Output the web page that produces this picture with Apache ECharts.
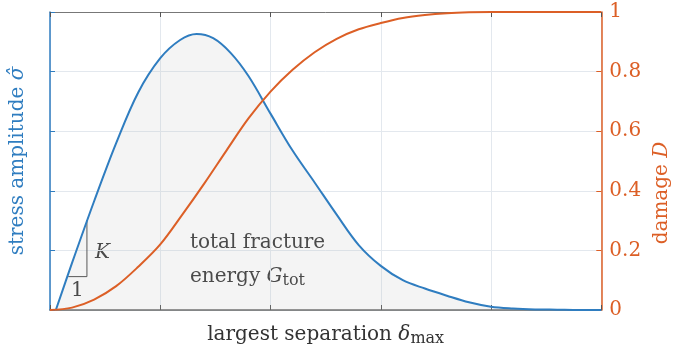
<!DOCTYPE html>
<html><head><meta charset="utf-8">
<script src="https://cdn.jsdelivr.net/npm/echarts@6/dist/echarts.min.js"></script>
<style>html,body{margin:0;padding:0;background:#fff}#c{width:680px;height:352px}</style>
</head><body><div id="c"></div>
<script>
// stress amplitude (blue)
const stressX = [0.053, 0.2, 0.4, 0.6, 0.8, 1.0, 1.18, 1.33, 1.48, 1.64, 1.8, 2.0, 2.2, 2.4, 2.6, 2.8, 3.0, 3.2, 3.4, 3.6, 3.8, 4.0, 4.2, 4.4, 4.6, 4.8, 5.0];
const stressY = [0, 0.158, 0.365, 0.56, 0.73, 0.845, 0.906, 0.926, 0.912, 0.862, 0.785, 0.659, 0.535, 0.428, 0.32, 0.218, 0.148, 0.1, 0.072, 0.048, 0.026, 0.011, 0.005, 0.002, 0.001, 0, 0];
// damage D (orange)
const damageX = [0, 0.2, 0.4, 0.6, 0.8, 1.0, 1.2, 1.4, 1.6, 1.8, 2.0, 2.2, 2.4, 2.6, 2.8, 3.0, 3.2, 3.4, 3.6, 3.8, 4.0, 4.5, 5.0];
const damageY = [0, 0.008, 0.035, 0.08, 0.145, 0.22, 0.32, 0.425, 0.535, 0.643, 0.733, 0.806, 0.865, 0.91, 0.942, 0.963, 0.98, 0.99, 0.996, 0.999, 1, 1, 1];
// slope triangle
const triX = [0.165, 0.335, 0.335];
const triY = [0.112, 0.112, 0.302];
const damageTicks = [0, 0.2, 0.4, 0.6, 0.8, 1];

const F = "'DejaVu Serif', serif";
const FS = 20;
const BLUE = '#2f7dc0', ORANGE = '#dc5f26', GRID = '#e3e8ee', TXT = '#333';
const zip = (a, b) => a.map((v, i) => [v, b[i]]);

const chart = echarts.init(document.getElementById('c'), null, {renderer: 'canvas'});
chart.setOption({
  animation: false,
  backgroundColor: '#fff',
  grid: {left: 49, right: 68, top: 12, bottom: 42},
  xAxis: [{
    type: 'value', min: 0, max: 5, interval: 1, position: 'bottom',
    name: '{a|largest separation }{i|δ}{s|max}', nameLocation: 'middle', nameGap: 13,
    nameTextStyle: {rich: {
      a: {fontFamily: F, fontSize: FS, color: TXT},
      i: {fontFamily: F, fontSize: FS, fontStyle: 'italic', color: TXT},
      s: {fontFamily: F, fontSize: 16, color: TXT, padding: [8, 0, 0, 0]}
    }},
    axisLine: {onZero: false, lineStyle: {color: '#666', width: 1.5}},
    axisTick: {inside: true, length: 5, lineStyle: {color: '#555'}},
    axisLabel: {show: false},
    splitLine: {show: true, lineStyle: {color: GRID, width: 1}}
  }, {
    type: 'value', min: 0, max: 5, interval: 1, position: 'top',
    axisLine: {onZero: false, lineStyle: {color: '#777', width: 1}},
    axisTick: {inside: true, length: 5, lineStyle: {color: '#555'}},
    axisLabel: {show: false}, splitLine: {show: false}
  }],
  yAxis: [{
    type: 'value', min: 0, max: 1, interval: 0.2, position: 'left',
    name: '{a|stress amplitude }{i|σ̂}', nameLocation: 'middle', nameGap: 22, nameRotate: 90,
    nameTextStyle: {rich: {
      a: {fontFamily: F, fontSize: FS, color: BLUE},
      i: {fontFamily: F, fontSize: FS, fontStyle: 'italic', color: BLUE}
    }},
    axisLine: {onZero: false, lineStyle: {color: BLUE, width: 1.5}},
    axisTick: {inside: true, length: 5, lineStyle: {color: BLUE}},
    axisLabel: {show: false},
    splitLine: {show: true, lineStyle: {color: GRID, width: 1}}
  }, {
    type: 'value', min: 0, max: 1, interval: 0.2, position: 'right',
    name: '{a|damage }{i|D}', nameLocation: 'middle', nameGap: 38, nameRotate: 90,
    nameTextStyle: {padding: [0, 64, 0, 0], rich: {
      a: {fontFamily: F, fontSize: FS, color: ORANGE},
      i: {fontFamily: F, fontSize: FS, fontStyle: 'italic', color: ORANGE}
    }},
    axisLine: {onZero: false, lineStyle: {color: ORANGE, width: 1.5}},
    axisTick: {inside: true, length: 5, lineStyle: {color: ORANGE}},
    axisLabel: {show: true, color: ORANGE, fontFamily: F, fontSize: FS, margin: 8,
      formatter: v => damageTicks.some(t => Math.abs(t - v) < 1e-9) ? String(+v.toFixed(1)) : ''},
    splitLine: {show: false}
  }],
  series: [{
    type: 'line', xAxisIndex: 0, yAxisIndex: 0, data: zip(stressX, stressY), smooth: 0.35,
    symbol: 'none', lineStyle: {color: BLUE, width: 2},
    areaStyle: {color: 'rgba(190,190,190,0.24)', origin: 'start'}, z: 3
  }, {
    type: 'line', xAxisIndex: 0, yAxisIndex: 1, data: zip(damageX, damageY), smooth: 0.35,
    symbol: 'none', lineStyle: {color: ORANGE, width: 2}, z: 4
  }, {
    type: 'line', xAxisIndex: 0, yAxisIndex: 0, data: zip(triX, triY), smooth: false,
    symbol: 'none', lineStyle: {color: '#444', width: 1}, z: 2
  }],
  graphic: [
    {type: 'text', left: 95, top: 243, style: {text: 'K', font: `italic ${FS}px ${F}`, fill: TXT}},
    {type: 'text', left: 71, top: 281, style: {text: '1', font: `${FS}px ${F}`, fill: TXT}},
    {type: 'text', left: 190, top: 233, style: {text: 'total fracture', font: `${FS}px ${F}`, fill: TXT}},
    {type: 'text', left: 190, top: 267, style: {
      text: '{a|energy }{i|G}{s|tot}',
      rich: {
        a: {fontFamily: F, fontSize: FS, fill: TXT},
        i: {fontFamily: F, fontSize: FS, fontStyle: 'italic', fill: TXT},
        s: {fontFamily: F, fontSize: 16, fill: TXT, padding: [8, 0, 0, 0]}
      }}}
  ]
});
</script></body></html>
